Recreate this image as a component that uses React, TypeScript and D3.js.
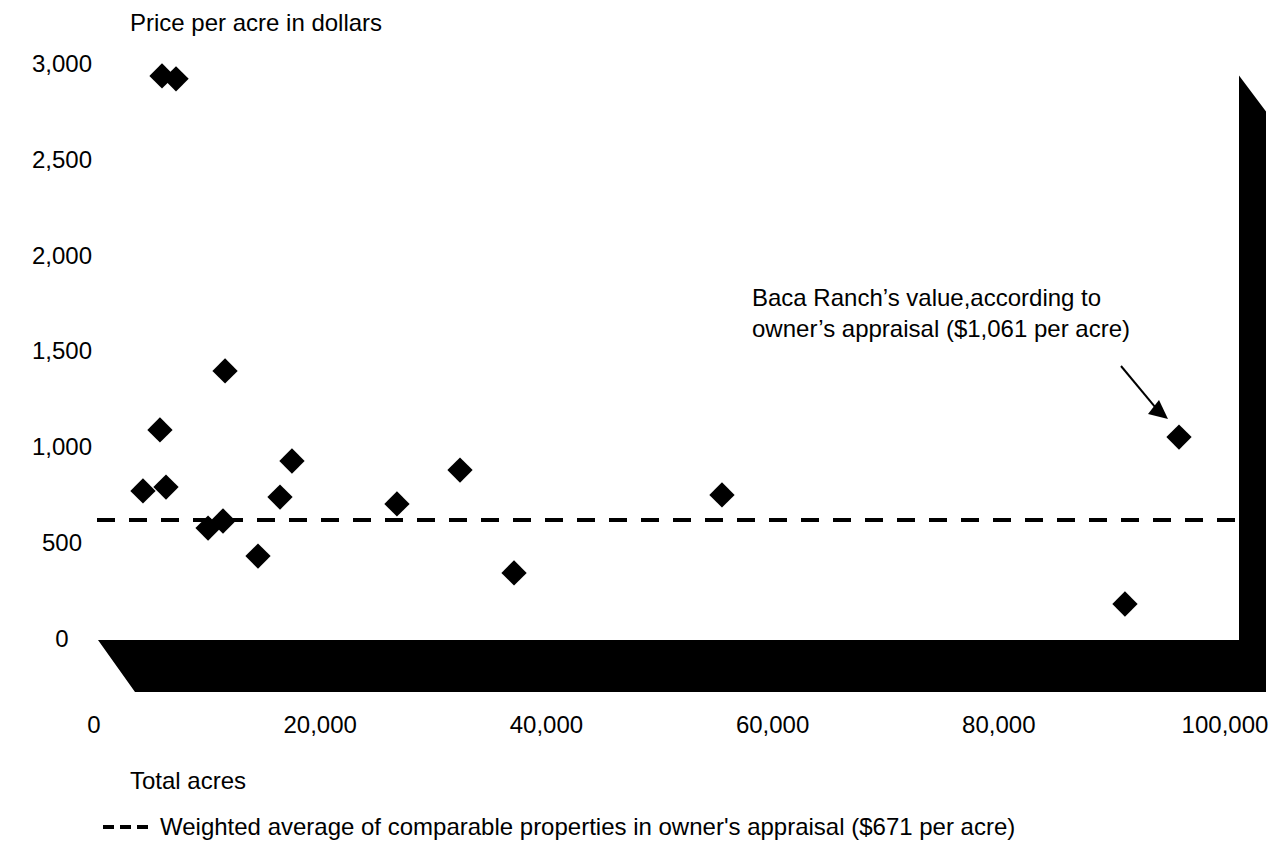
import React, { useEffect, useRef } from "react";
import * as d3 from "d3";

// comparable sales: total acres vs price per acre
const acres = [5790, 7020, 11320, 5610, 4120, 6140, 9830, 11140, 17190, 16140, 14210, 26400, 31930, 36670, 54910, 90260, 95000];
const pricePerAcre = [2935, 2920, 1396, 1088, 770, 790, 576, 613, 926, 738, 430, 702, 879, 342, 749, 180, 1051];
const weightedAverage = 618;

const xTicks = [0, 20000, 40000, 60000, 80000, 100000];
const yTicks = [0, 500, 1000, 1500, 2000, 2500, 3000];

const annotationLines = ["Baca Ranch\u2019s value,according to", "owner\u2019s appraisal ($1,061 per acre)"];
const legendLabel = "Weighted average of comparable properties in owner's appraisal ($671 per acre)";

const W = 1278;
const H = 851;
const FONT = "'Liberation Sans', Arial, sans-serif";

export default function App() {
  const svgRef = useRef<SVGSVGElement>(null);

  useEffect(() => {
    const svg = d3.select(svgRef.current);
    svg.selectAll("*").remove();

    const x = d3.scaleLinear().domain([0, 100000]).range([96, 1236]);
    const y = d3.scaleLinear().domain([0, 3000]).range([638.5, 63.5]);
    // tick labels sit in front of the floor, slightly shifted
    const xLabel = d3.scaleLinear().domain([0, 100000]).range([94, 1225]);

    const fmt = d3.format(",");

    // black floor + right wall (3D look)
    const x0 = x(0) + 2;
    const x1 = x(100000) + 3;
    const yb = y(0) + 1.5;
    const yt = y(0) - 563;
    const floor = [
      [x0, yb],
      [x1, yb],
      [x1, yt],
      [x1 + 27, yt + 36],
      [x1 + 27, yb + 52],
      [x0 + 37, yb + 52],
    ];
    svg
      .append("polygon")
      .attr("points", floor.map((p) => p.join(",")).join(" "))
      .attr("fill", "#000");

    // y tick labels
    svg
      .append("g")
      .selectAll("text")
      .data(yTicks)
      .enter()
      .append("text")
      .attr("x", 62)
      .attr("y", (d) => y(d))
      .attr("dy", "0.35em")
      .attr("text-anchor", "middle")
      .text((d) => fmt(d));

    // x tick labels
    svg
      .append("g")
      .selectAll("text")
      .data(xTicks)
      .enter()
      .append("text")
      .attr("x", (d) => xLabel(d))
      .attr("y", 733)
      .attr("text-anchor", "middle")
      .text((d) => fmt(d));

    // axis titles
    svg.append("text").attr("x", 130).attr("y", 31).text("Price per acre in dollars");
    svg.append("text").attr("x", 130).attr("y", 789).text("Total acres");

    // weighted average line
    svg
      .append("line")
      .attr("x1", x(0) + 1)
      .attr("x2", x(100000) + 1)
      .attr("y1", y(weightedAverage))
      .attr("y2", y(weightedAverage))
      .attr("stroke", "#000")
      .attr("stroke-width", 4)
      .attr("stroke-dasharray", "18,14");

    // points
    const diamond = d3.symbol().type(d3.symbolSquare).size(320);
    svg
      .append("g")
      .selectAll("path")
      .data(acres.map((a, i) => ({ a, p: pricePerAcre[i] })))
      .enter()
      .append("path")
      .attr("d", diamond)
      .attr("transform", (d) => `translate(${x(d.a)},${y(d.p)}) rotate(45)`)
      .attr("fill", "#000");

    // annotation
    const ann = svg.append("text").attr("x", 752);
    annotationLines.forEach((t, i) => {
      ann
        .append("tspan")
        .attr("x", 752)
        .attr("y", 306 + i * 31)
        .text(t);
    });
    const tipX = x(95000) - 11;
    const tipY = y(1051) - 18;
    svg
      .append("line")
      .attr("x1", 1121)
      .attr("y1", 366)
      .attr("x2", tipX - 12)
      .attr("y2", tipY - 11)
      .attr("stroke", "#000")
      .attr("stroke-width", 2);
    svg
      .append("polygon")
      .attr("points", `${tipX},${tipY} ${tipX - 9},${tipY - 19} ${tipX - 20},${tipY - 5}`)
      .attr("fill", "#000");

    // legend
    svg
      .append("line")
      .attr("x1", 103)
      .attr("x2", 148)
      .attr("y1", 827)
      .attr("y2", 827)
      .attr("stroke", "#000")
      .attr("stroke-width", 4)
      .attr("stroke-dasharray", "11,6");
    svg.append("text").attr("x", 160).attr("y", 835).text(legendLabel);
  }, []);

  return (
    <svg
      ref={svgRef}
      width={W}
      height={H}
      style={{ position: "absolute", left: 0, top: 0, background: "#fff" }}
      fontFamily={FONT}
      fontSize={24}
      fill="#000"
    />
  );
}
